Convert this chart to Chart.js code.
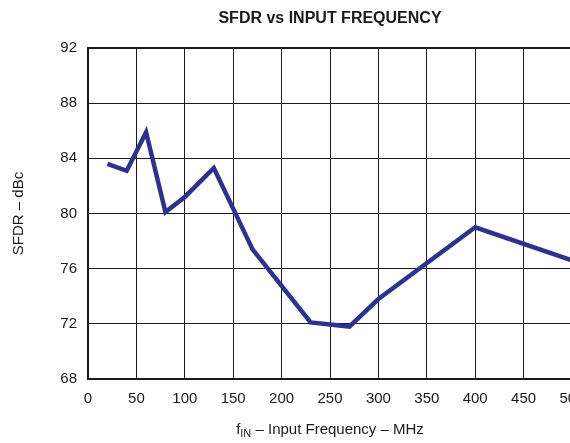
<!DOCTYPE html>
<html>
<head>
<meta charset="utf-8">
<script src="https://cdn.jsdelivr.net/npm/chart.js@4/dist/chart.umd.min.js"></script>
<style>
  html, body { margin: 0; padding: 0; background: #fff; overflow: hidden; width: 570px; height: 443px; }
  canvas { display: block; }
</style>
</head>
<body>
<canvas id="c" width="600" height="443"></canvas>
<script>
// SFDR measured across input frequency
const freqMHz = [20, 40, 60, 80, 100, 130, 170, 230, 270, 300, 400, 500];
const sfdrDbc = [83.6, 83.1, 85.9, 80.1, 81.2, 83.3, 77.4, 72.1, 71.8, 73.8, 79.0, 76.6];
const xTicks = [0, 50, 100, 150, 200, 250, 300, 350, 400, 450, 500];
const yTicks = [68, 72, 76, 80, 84, 88, 92];

const FONT = '"Liberation Sans", Arial, sans-serif';
const INK = '#1a1a1a';

// Title and subscripted x-axis caption
const captions = {
  id: 'captions',
  afterDraw(chart) {
    const { ctx, chartArea } = chart;
    const cx = (chartArea.left + chartArea.right) / 2;
    ctx.save();
    ctx.fillStyle = INK;
    ctx.textBaseline = 'middle';
    ctx.textAlign = 'center';
    ctx.font = 'bold 16px ' + FONT;
    ctx.fillText('SFDR vs INPUT FREQUENCY', cx, 19);

    const y = chartArea.bottom + 51;
    const big = '15px ' + FONT, small = '11px ' + FONT;
    const parts = [['f', big, 0], ['IN', small, 4], [' \u2013 Input Frequency \u2013 MHz', big, 0]];
    let total = 0;
    for (const [t, f] of parts) { ctx.font = f; total += ctx.measureText(t).width; }
    let x = cx - total / 2;
    ctx.textAlign = 'left';
    for (const [t, f, dy] of parts) {
      ctx.font = f;
      ctx.fillText(t, x, y + dy);
      x += ctx.measureText(t).width;
    }
    ctx.restore();
  }
};

new Chart(document.getElementById('c'), {
  type: 'line',
  data: {
    datasets: [{
      data: freqMHz.map((f, i) => ({ x: f, y: sfdrDbc[i] })),
      borderColor: '#2e3192',
      borderWidth: 4.5,
      pointRadius: 0,
      tension: 0,
      borderJoinStyle: 'miter',
      clip: false
    }]
  },
  options: {
    responsive: false,
    animation: false,
    layout: { padding: { top: 48, right: 28, left: 0, bottom: 0 } },
    plugins: { legend: { display: false }, tooltip: { enabled: false } },
    scales: {
      x: {
        type: 'linear',
        min: 0, max: 500,
        afterBuildTicks: s => { s.ticks = xTicks.map(v => ({ value: v })); },
        afterFit: s => { s.height = 64; },
        ticks: { color: INK, font: { family: FONT, size: 15 }, padding: 11, maxRotation: 0 },
        grid: { color: INK, lineWidth: 1, drawTicks: false },
        border: { color: INK, width: 2 }
      },
      y: {
        min: 68, max: 92,
        afterBuildTicks: s => { s.ticks = yTicks.map(v => ({ value: v })); },
        afterFit: s => { s.width = 88; },
        ticks: { color: INK, font: { family: FONT, size: 15 }, padding: 11 },
        grid: { color: INK, lineWidth: c => (c.tick && c.tick.value === 92 ? 2 : 1), drawTicks: false },
        border: { color: INK, width: 2 },
        title: { display: true, text: 'SFDR \u2013 dBc', color: INK, font: { family: FONT, size: 15 }, padding: { top: 10, bottom: 0 } }
      }
    }
  },
  plugins: [captions]
});
</script>
</body>
</html>
